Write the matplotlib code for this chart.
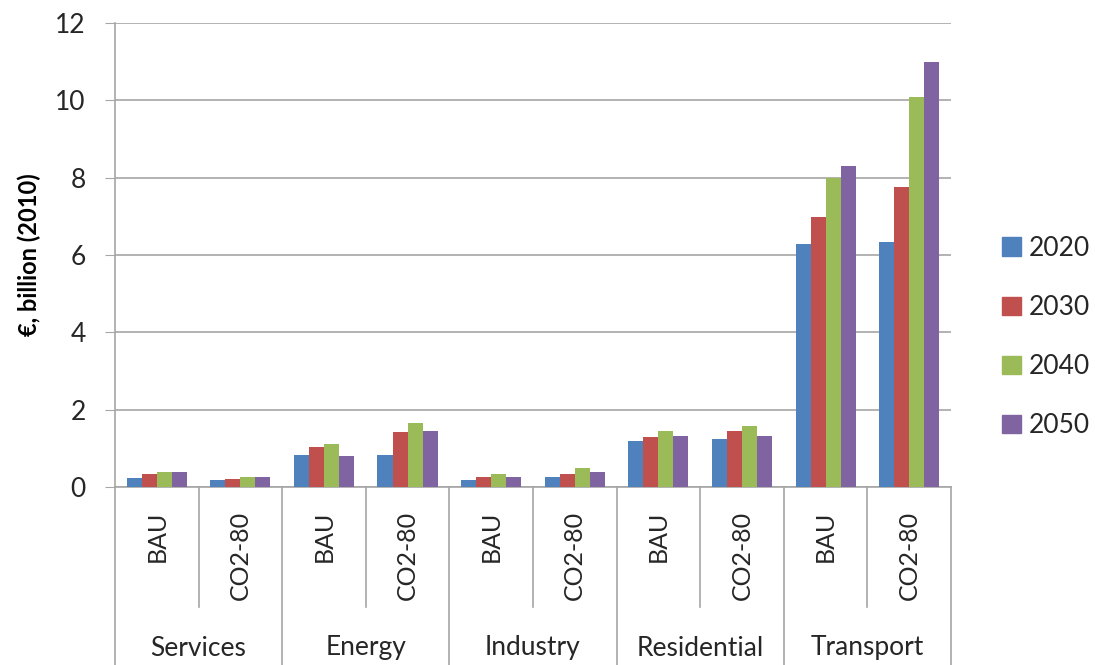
import matplotlib
matplotlib.use("Agg")
import matplotlib.pyplot as plt
import matplotlib.transforms as mtransforms
from matplotlib.patches import Patch
import numpy as np

# data
sectors = ["Services", "Energy", "Industry", "Residential", "Transport"]
scenarios = ["BAU", "CO2-80"]
years = ["2020", "2030", "2040", "2050"]

v2020 = [0.22, 0.18, 0.84, 0.84, 0.18, 0.25, 1.20, 1.24, 6.29, 6.33]
v2030 = [0.33, 0.21, 1.04, 1.41, 0.25, 0.33, 1.29, 1.45, 6.97, 7.77]
v2040 = [0.39, 0.25, 1.12, 1.66, 0.33, 0.49, 1.45, 1.57, 7.99, 10.08]
v2050 = [0.39, 0.25, 0.79, 1.45, 0.25, 0.38, 1.32, 1.32, 8.29, 11.00]

colors = ["#4F81BD", "#C0504D", "#9BBB59", "#8064A2"]
grid_col = "#A6A6A6"

plt.rcParams["font.family"] = ["Lato", "DejaVu Sans"]

fig = plt.figure(figsize=(10.95, 6.65), dpi=100)
ax = fig.add_axes([0.105, 0.2677, 0.7635, 0.6977])

n = len(sectors) * len(scenarios)
x = np.arange(n)
width = 0.18
series = [v2020, v2030, v2040, v2050]
for i, (vals, col) in enumerate(zip(series, colors)):
    ax.bar(x + (i - 1.5) * width, vals, width, color=col, zorder=3)

ax.set_xlim(-0.5, n - 0.5)
ax.set_ylim(0, 12)
ax.set_yticks(range(0, 13, 2))
ax.yaxis.grid(True, color=grid_col, linewidth=1.2, zorder=0)
for s in ["top", "right"]:
    ax.spines[s].set_visible(False)
for s in ["left", "bottom"]:
    ax.spines[s].set_color(grid_col)
    ax.spines[s].set_linewidth(1.2)
ax.tick_params(axis="y", length=7, color=grid_col, labelsize=19, pad=14,
               labelcolor="#262626")

# scenario labels (rotated)
ax.set_xticks(x)
ax.set_xticklabels(scenarios * len(sectors), rotation=90, fontsize=18,
                   color="#262626")
ax.tick_params(axis="x", length=0, pad=17)

ax.set_ylabel("€, billion (2010)", fontsize=17, fontweight="bold", labelpad=10)

# separators and sector labels below the axis
trans = mtransforms.blended_transform_factory(ax.transData, fig.transFigure)
y_axis = 0.2677
y_inner = 1 - 607 / 665
for k in range(n + 1):
    xb = k - 0.5
    y_end = 0.0 if k % 2 == 0 else y_inner
    ax.plot([xb, xb], [y_axis, y_end], color=grid_col, linewidth=1.2,
            transform=trans, clip_on=False)
for j, name in enumerate(sectors):
    ax.text(2 * j + 0.5, 1 - 648 / 665, name, transform=trans,
            ha="center", va="center", fontsize=19, color="#262626")

handles = [Patch(color=c) for c in colors]
fig.legend(handles, years, loc="center left", bbox_to_anchor=(0.8935, 0.493),
           frameon=False, fontsize=19, labelspacing=1.29,
           handlelength=0.72, handleheight=0.72, handletextpad=0.3,
           labelcolor="#262626")

fig.savefig("out.png", dpi=100, facecolor="white")
